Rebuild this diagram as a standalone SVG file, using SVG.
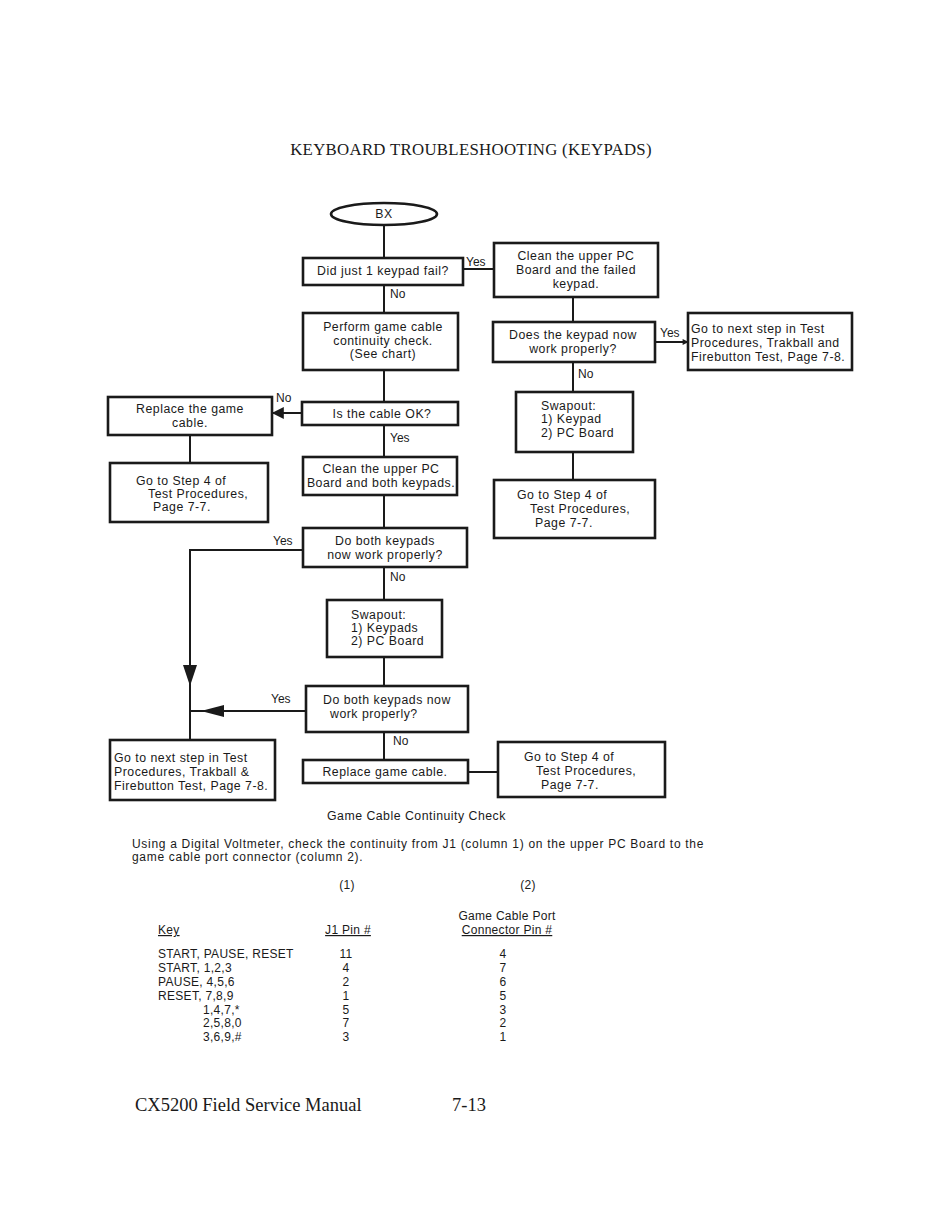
<svg xmlns="http://www.w3.org/2000/svg" width="950" height="1210" viewBox="0 0 950 1210">
<style>
.box{fill:#fff;stroke:#1a1a1a;stroke-width:2.6}
.ln{fill:none;stroke:#1a1a1a;stroke-width:2}
.t{font-family:"Liberation Sans",Arial,sans-serif;font-size:12.3px;letter-spacing:0.5px;fill:#1a1a1a}
.c{text-anchor:middle}
.tb{font-family:"Liberation Sans",Arial,sans-serif;font-size:12px;letter-spacing:0.3px;fill:#1a1a1a}
.para{font-family:"Liberation Sans",Arial,sans-serif;font-size:12px;letter-spacing:0.7px;fill:#1a1a1a}
.lb{font-family:"Liberation Sans",Arial,sans-serif;font-size:12px;fill:#1a1a1a}
.title{font-family:"Liberation Serif","Times New Roman",serif;font-size:16.8px;fill:#1a1a1a;letter-spacing:0.3px}
.foot{font-family:"Liberation Serif","Times New Roman",serif;font-size:18.5px;fill:#1a1a1a}
</style>
<defs>
<marker id="ah" viewBox="0 0 10 10" refX="9" refY="5" markerWidth="7" markerHeight="6" markerUnits="userSpaceOnUse" orient="auto"><path d="M0,0 L10,5 L0,10 z" fill="#1a1a1a"/></marker>
<marker id="ahb" viewBox="0 0 10 10" refX="9" refY="5" markerWidth="20" markerHeight="12" markerUnits="userSpaceOnUse" orient="auto"><path d="M0,0 L10,5 L0,10 z" fill="#1a1a1a"/></marker>
</defs>
<rect width="950" height="1210" fill="#fff"/>
<text class="title" x="471" y="155" text-anchor="middle">KEYBOARD TROUBLESHOOTING (KEYPADS)</text>

<g id="connectors">
<line class="ln" x1="384" y1="225" x2="384" y2="258"/>
<line class="ln" x1="463" y1="269" x2="494" y2="269"/>
<line class="ln" x1="384" y1="285" x2="384" y2="313"/>
<line class="ln" x1="573" y1="297" x2="573" y2="322"/>
<line class="ln" x1="655" y1="342" x2="688" y2="342" marker-end="url(#ah)"/>
<line class="ln" x1="573" y1="362" x2="573" y2="392"/>
<line class="ln" x1="573" y1="452" x2="573" y2="480"/>
<line class="ln" x1="384" y1="370" x2="384" y2="402"/>
<line class="ln" x1="302" y1="413" x2="273" y2="413" marker-end="url(#ahb)"/>
<line class="ln" x1="190" y1="435" x2="190" y2="463"/>
<line class="ln" x1="384" y1="425" x2="384" y2="457"/>
<line class="ln" x1="384" y1="495" x2="384" y2="528"/>
<path class="ln" d="M303,550 L190,550 L190,740"/>
<path d="M183,665 L197,665 L190,686 z" fill="#1a1a1a"/>
<line class="ln" x1="384" y1="567" x2="384" y2="600"/>
<line class="ln" x1="384" y1="657" x2="384" y2="686"/>
<line class="ln" x1="306" y1="711" x2="190" y2="711"/>
<path d="M224,705 L224,717 L201,711 z" fill="#1a1a1a"/>
<line class="ln" x1="384" y1="732" x2="384" y2="760"/>
<line class="ln" x1="468" y1="772" x2="498" y2="772"/>
</g>

<g id="labels">
<text class="lb" x="466" y="266">Yes</text>
<text class="lb" x="390" y="298">No</text>
<text class="lb" x="578" y="378">No</text>
<text class="lb" x="660" y="337">Yes</text>
<text class="lb" x="276" y="402">No</text>
<text class="lb" x="390" y="442">Yes</text>
<text class="lb" x="273" y="545">Yes</text>
<text class="lb" x="390" y="581">No</text>
<text class="lb" x="271" y="703">Yes</text>
<text class="lb" x="393" y="745">No</text>
</g>

<g id="bx">
<ellipse class="box" cx="384" cy="214" rx="53" ry="11"/>
<text class="t c" x="384" y="218">BX</text>
</g>
<g id="just1">
<rect class="box" x="303" y="258" width="160" height="27"/>
<text class="t c" x="383" y="275">Did just 1 keypad fail?</text>
</g>
<g id="clean1">
<rect class="box" x="494" y="243" width="164" height="54"/>
<text class="t c" x="576" y="260">Clean the upper PC</text>
<text class="t c" x="576" y="274">Board and the failed</text>
<text class="t c" x="576" y="288">keypad.</text>
</g>
<g id="doesnow">
<rect class="box" x="493" y="322" width="162" height="40"/>
<text class="t c" x="573" y="339">Does the keypad now</text>
<text class="t c" x="573" y="353">work properly?</text>
</g>
<g id="nextR">
<rect class="box" x="688" y="313" width="164" height="57"/>
<text class="t" x="691" y="333">Go to next step in Test</text>
<text class="t" x="691" y="347">Procedures, Trakball and</text>
<text class="t" x="691" y="361">Firebutton Test, Page 7-8.</text>
</g>
<g id="swapR">
<rect class="box" x="516" y="392" width="117" height="60"/>
<text class="t" x="541" y="410">Swapout:</text>
<text class="t" x="541" y="423">1) Keypad</text>
<text class="t" x="541" y="437">2) PC Board</text>
</g>
<g id="step4R1">
<rect class="box" x="494" y="480" width="161" height="58"/>
<text class="t" x="517" y="499">Go to Step 4 of</text>
<text class="t" x="530" y="513">Test Procedures,</text>
<text class="t" x="535" y="527">Page 7-7.</text>
</g>
<g id="perform">
<rect class="box" x="303" y="313" width="155" height="57"/>
<text class="t c" x="383" y="331">Perform game cable</text>
<text class="t c" x="383" y="345">continuity check.</text>
<text class="t c" x="383" y="358">(See chart)</text>
</g>
<g id="cableok">
<rect class="box" x="302" y="402" width="156" height="23"/>
<text class="t c" x="382" y="418">Is the cable OK?</text>
</g>
<g id="replace1">
<rect class="box" x="108" y="397" width="164" height="38"/>
<text class="t c" x="190" y="413">Replace the game</text>
<text class="t c" x="190" y="427">cable.</text>
</g>
<g id="step4L">
<rect class="box" x="110" y="463" width="158" height="59"/>
<text class="t" x="136" y="485">Go to Step 4 of</text>
<text class="t" x="148" y="498">Test Procedures,</text>
<text class="t" x="153" y="511">Page 7-7.</text>
</g>
<g id="cleanboth">
<rect class="box" x="303" y="457" width="154" height="38"/>
<text class="t c" x="381" y="473">Clean the upper PC</text>
<text class="t c" x="381" y="487" letter-spacing="0.3">Board and both keypads.</text>
</g>
<g id="doboth1">
<rect class="box" x="303" y="528" width="164" height="39"/>
<text class="t c" x="385" y="545">Do both keypads</text>
<text class="t c" x="385" y="559">now work properly?</text>
</g>
<g id="swapL">
<rect class="box" x="327" y="600" width="115" height="57"/>
<text class="t" x="351" y="619">Swapout:</text>
<text class="t" x="351" y="632">1) Keypads</text>
<text class="t" x="351" y="645">2) PC Board</text>
</g>
<g id="doboth2">
<rect class="box" x="306" y="686" width="162" height="46"/>
<text class="t" x="323" y="704">Do both keypads now</text>
<text class="t" x="330" y="718">work properly?</text>
</g>
<g id="nextL">
<rect class="box" x="110" y="740" width="165" height="60"/>
<text class="t" x="114" y="762">Go to next step in Test</text>
<text class="t" x="114" y="776">Procedures, Trakball &amp;</text>
<text class="t" x="114" y="790">Firebutton Test, Page 7-8.</text>
</g>
<g id="replace2">
<rect class="box" x="303" y="760" width="165" height="23"/>
<text class="t c" x="385" y="776">Replace game cable.</text>
</g>
<g id="step4R2">
<rect class="box" x="498" y="742" width="167" height="55"/>
<text class="t" x="524" y="761">Go to Step 4 of</text>
<text class="t" x="536" y="775">Test Procedures,</text>
<text class="t" x="541" y="789">Page 7-7.</text>
</g>

<g id="chart">
<text class="t" x="327" y="820">Game Cable Continuity Check</text>
<text class="para" x="132" y="848">Using a Digital Voltmeter, check the continuity from J1 (column 1) on the upper PC Board to the</text>
<text class="para" x="132" y="861">game cable port connector (column 2).</text>
<text class="tb c" x="347" y="889">(1)</text>
<text class="tb c" x="528" y="889">(2)</text>
<text class="tb c" x="507" y="920">Game Cable Port</text>
<text class="tb c" x="507" y="934" text-decoration="underline">Connector Pin #</text>
<text class="tb" x="158" y="934" text-decoration="underline">Key</text>
<text class="tb c" x="348" y="934" text-decoration="underline">J1 Pin #</text>
<text class="tb" x="158" y="958">START, PAUSE, RESET</text>
<text class="tb" x="158" y="972">START, 1,2,3</text>
<text class="tb" x="158" y="986">PAUSE, 4,5,6</text>
<text class="tb" x="158" y="1000">RESET, 7,8,9</text>
<text class="tb" x="203" y="1014">1,4,7,*</text>
<text class="tb" x="203" y="1027">2,5,8,0</text>
<text class="tb" x="203" y="1041">3,6,9,#</text>
<text class="tb c" x="346" y="958">11</text>
<text class="tb c" x="346" y="972">4</text>
<text class="tb c" x="346" y="986">2</text>
<text class="tb c" x="346" y="1000">1</text>
<text class="tb c" x="346" y="1014">5</text>
<text class="tb c" x="346" y="1027">7</text>
<text class="tb c" x="346" y="1041">3</text>
<text class="tb c" x="503" y="958">4</text>
<text class="tb c" x="503" y="972">7</text>
<text class="tb c" x="503" y="986">6</text>
<text class="tb c" x="503" y="1000">5</text>
<text class="tb c" x="503" y="1014">3</text>
<text class="tb c" x="503" y="1027">2</text>
<text class="tb c" x="503" y="1041">1</text>
</g>
<text class="foot" x="135" y="1111">CX5200 Field Service Manual</text>
<text class="foot" x="452" y="1111">7-13</text>
</svg>
